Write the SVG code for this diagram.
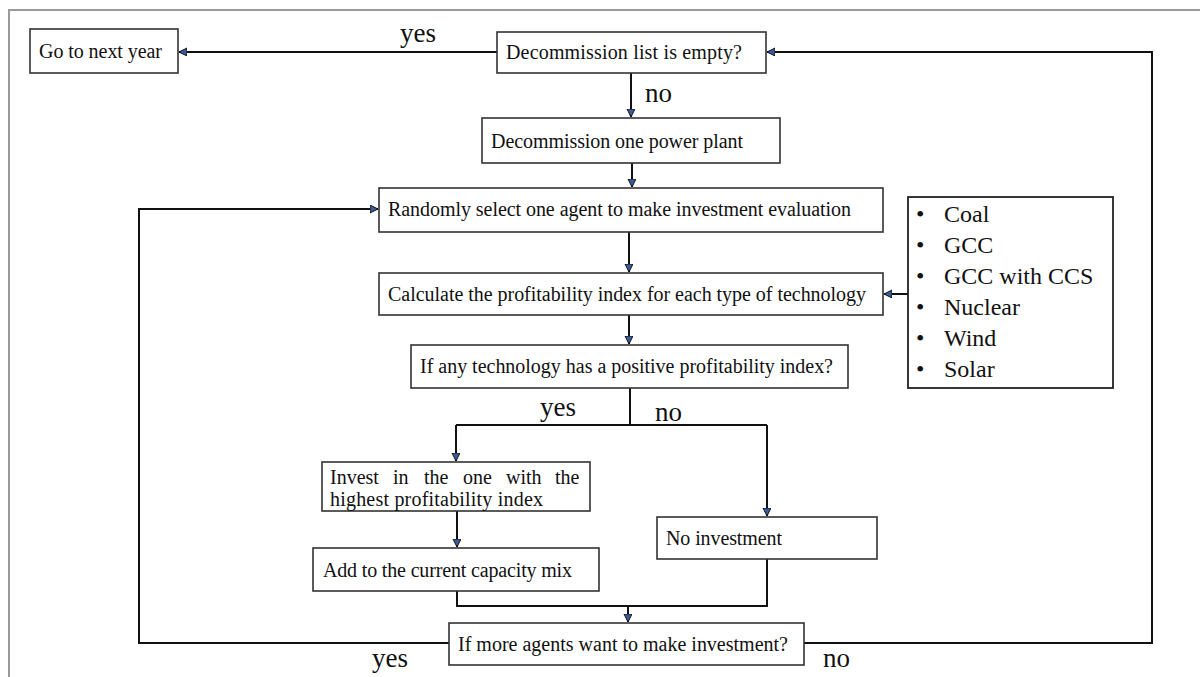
<svg xmlns="http://www.w3.org/2000/svg" width="1200" height="677" viewBox="0 0 1200 677">
<style>
.box{fill:#fff;stroke:#333;stroke-width:1.6}
.t{font-family:"Liberation Serif","Times New Roman",serif;font-size:20px;fill:#111}
.lbl{font-family:"Liberation Serif","Times New Roman",serif;font-size:27px;fill:#111}
.li{font-family:"Liberation Serif","Times New Roman",serif;font-size:24px;fill:#111}
.c{fill:none;stroke:#111;stroke-width:2}
</style>
<defs>
<marker id="ah" markerWidth="10" markerHeight="10" refX="8" refY="4" orient="auto" markerUnits="userSpaceOnUse">
<path d="M0,0 L8,4 L0,8 Z" fill="#3b5b9b" stroke="#111" stroke-width="1"/>
</marker>
</defs>
<rect width="1200" height="677" fill="#fff"/>
<path d="M9,677 V10 H1200" fill="none" stroke="#9a9a9a" stroke-width="2"/>

<g id="connectors">
<path class="c" d="M497,52 H179" marker-end="url(#ah)"/>
<path class="c" d="M631,73 V117" marker-end="url(#ah)"/>
<path class="c" d="M632,163 V187" marker-end="url(#ah)"/>
<path class="c" d="M629,232 V272" marker-end="url(#ah)"/>
<path class="c" d="M629,315 V344" marker-end="url(#ah)"/>
<path class="c" d="M908,294 H884" marker-end="url(#ah)"/>
<path class="c" d="M630,388 V425"/>
<path class="c" d="M456,425 H767"/>
<path class="c" d="M456,425 V461" marker-end="url(#ah)"/>
<path class="c" d="M767,425 V516" marker-end="url(#ah)"/>
<path class="c" d="M457,511 V547" marker-end="url(#ah)"/>
<path class="c" d="M457,591 V606 H767 V559"/>
<path class="c" d="M628,606 V622" marker-end="url(#ah)"/>
<path class="c" d="M449,643 H139 V209 H378" marker-end="url(#ah)"/>
<path class="c" d="M804,643 H1152 V52 H767" marker-end="url(#ah)"/>
<text class="lbl" x="400" y="42">yes</text>
<text class="lbl" x="645" y="102">no</text>
<text class="lbl" x="540" y="416">yes</text>
<text class="lbl" x="655" y="421">no</text>
<text class="lbl" x="372" y="667">yes</text>
<text class="lbl" x="823" y="667">no</text>
</g>

<g id="go-next-year">
<rect class="box" x="30" y="29" width="148" height="44"/>
<text class="t" x="39" y="58" textLength="123" lengthAdjust="spacing">Go to next year</text>
</g>
<g id="decommission-empty">
<rect class="box" x="497" y="32" width="269" height="41"/>
<text class="t" x="506" y="59" textLength="236" lengthAdjust="spacing">Decommission  list is empty?</text>
</g>
<g id="decommission-one">
<rect class="box" x="482" y="118" width="298" height="45"/>
<text class="t" x="491" y="148" textLength="252" lengthAdjust="spacing">Decommission  one power plant</text>
</g>
<g id="random-select">
<rect class="box" x="379" y="188" width="504" height="44"/>
<text class="t" x="388" y="216" textLength="463" lengthAdjust="spacing">Randomly  select one agent to make  investment evaluation</text>
</g>
<g id="calculate">
<rect class="box" x="379" y="273" width="504" height="42"/>
<text class="t" x="388" y="301" textLength="478" lengthAdjust="spacing">Calculate  the profitability  index for each type of technology</text>
</g>
<g id="technologies">
<rect x="908" y="197" width="205" height="191" fill="#fff" stroke="#222" stroke-width="1.8"/>
<g class="li">
<text x="916" y="222">•</text><text x="944" y="222">Coal</text>
<text x="916" y="253">•</text><text x="944" y="253">GCC</text>
<text x="916" y="284">•</text><text x="944" y="284">GCC with CCS</text>
<text x="916" y="315">•</text><text x="944" y="315">Nuclear</text>
<text x="916" y="346">•</text><text x="944" y="346">Wind</text>
<text x="916" y="377">•</text><text x="944" y="377">Solar</text>
</g>
</g>
<g id="positive-index">
<rect class="box" x="411" y="345" width="437" height="43"/>
<text class="t" x="420" y="373" textLength="413" lengthAdjust="spacing">If any technology has a positive  profitability  index?</text>
</g>
<g id="invest-highest">
<rect class="box" x="322" y="462" width="268" height="49"/>
<text class="t" y="484"><tspan x="330">Invest</tspan><tspan x="393">in</tspan><tspan x="424">the</tspan><tspan x="463">one</tspan><tspan x="506">with</tspan><tspan x="555">the</tspan></text>
<text class="t" x="330" y="506" textLength="213" lengthAdjust="spacing">highest profitability   index</text>
</g>
<g id="add-capacity">
<rect class="box" x="313" y="548" width="286" height="43"/>
<text class="t" x="323" y="577" textLength="249" lengthAdjust="spacing">Add to the current capacity mix</text>
</g>
<g id="no-investment">
<rect class="box" x="657" y="517" width="220" height="42"/>
<text class="t" x="666" y="545" textLength="116" lengthAdjust="spacing">No investment</text>
</g>
<g id="more-agents">
<rect class="box" x="449" y="623" width="355" height="42"/>
<text class="t" x="458" y="651" textLength="330" lengthAdjust="spacing">If more agents want to make  investment?</text>
</g>
</svg>
